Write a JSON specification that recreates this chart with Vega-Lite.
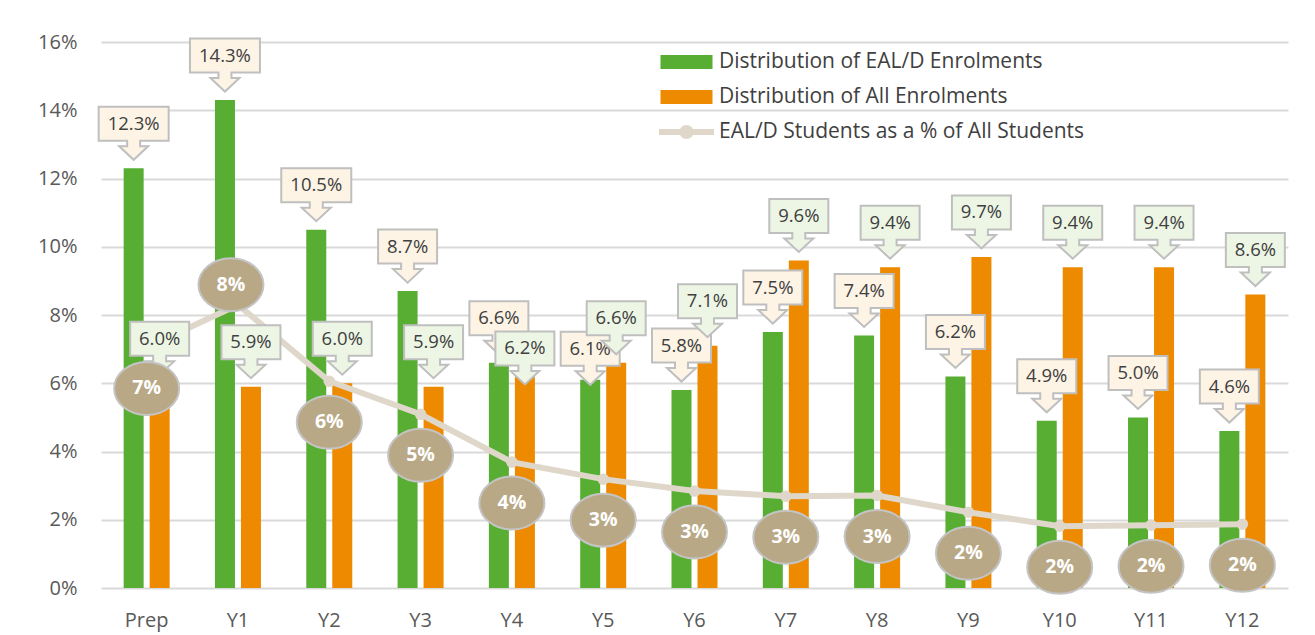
{
  "$schema": "https://vega.github.io/schema/vega-lite/v6.json",
  "width": 1187,
  "height": 546,
  "autosize": "none",
  "padding": {"left": 101, "top": 42, "right": 27, "bottom": 47},
  "background": "white",
  "config": {
    "view": {"stroke": null},
    "font": "Open Sans",
    "axis": {"ticks": false, "domain": false, "labelFont": "Open Sans", "labelFontSize": 20, "labelColor": "#595959", "title": null}
  },
  "data": {
    "values": [
      {"grade": "Prep", "eald": 0.123, "all": 0.060, "pct": 0.0705},
      {"grade": "Y1", "eald": 0.143, "all": 0.059, "pct": 0.083},
      {"grade": "Y2", "eald": 0.105, "all": 0.060, "pct": 0.0606},
      {"grade": "Y3", "eald": 0.087, "all": 0.059, "pct": 0.0509},
      {"grade": "Y4", "eald": 0.066, "all": 0.062, "pct": 0.0369},
      {"grade": "Y5", "eald": 0.061, "all": 0.066, "pct": 0.0319},
      {"grade": "Y6", "eald": 0.058, "all": 0.071, "pct": 0.0284},
      {"grade": "Y7", "eald": 0.075, "all": 0.096, "pct": 0.0269},
      {"grade": "Y8", "eald": 0.074, "all": 0.094, "pct": 0.0271},
      {"grade": "Y9", "eald": 0.062, "all": 0.097, "pct": 0.0222},
      {"grade": "Y10", "eald": 0.049, "all": 0.094, "pct": 0.0181},
      {"grade": "Y11", "eald": 0.050, "all": 0.094, "pct": 0.0184},
      {"grade": "Y12", "eald": 0.046, "all": 0.086, "pct": 0.0187}
    ]
  },
  "encoding": {
    "x": {
      "field": "grade",
      "type": "nominal",
      "title": null,
      "scale": {"domain": ["Prep", "Y1", "Y2", "Y3", "Y4", "Y5", "Y6", "Y7", "Y8", "Y9", "Y10", "Y11", "Y12"], "paddingInner": 0, "paddingOuter": 0},
      "axis": {"labelAngle": 0, "labelPadding": 22, "grid": false}
    }
  },
  "layer": [
    {
      "mark": {"type": "bar", "width": 20, "xOffset": -13},
      "encoding": {
        "y": {
          "field": "eald", "type": "quantitative", "title": null,
          "scale": {"domain": [0, 0.16], "nice": false},
          "axis": {"values": [0, 0.02, 0.04, 0.06, 0.08, 0.1, 0.12, 0.14, 0.16], "format": ".0%", "labelPadding": 24, "grid": true, "gridColor": "#D9D9D9", "gridWidth": 2}
        },
        "fill": {
          "datum": "Distribution of EAL/D Enrolments",
          "type": "nominal",
          "scale": {
            "domain": ["Distribution of EAL/D Enrolments", "Distribution of All Enrolments", "EAL/D Students as a % of All Students"],
            "range": ["#57AE33", "#EE8A00", "#DED7CA"]
          },
          "legend": {
            "orient": "none", "legendX": 575, "legendY": 9.5, "title": null,
            "labelFont": "Open Sans", "labelFontSize": 21, "labelColor": "#404040", "labelLimit": 600,
            "symbolSize": 400, "symbolStrokeWidth": 0, "labelOffset": 22, "rowPadding": 13, "padding": 0,
            "encode": {
              "symbols": {
                "update": {
                  "shape": {"signal": "datum.value === 'EAL/D Students as a % of All Students' ? 'M -2.75 -0.3 L 2.75 -0.3 L 2.75 0.3 L -2.75 0.3 Z M 0.7 0 A 0.7 0.7 0 1 1 -0.7 0 A 0.7 0.7 0 1 1 0.7 0 Z' : 'M -2.6 -0.7 L 2.6 -0.7 L 2.6 0.7 L -2.6 0.7 Z'"},
                  "opacity": {"value": 1}
                }
              }
            }
          }
        }
      }
    },
    {
      "mark": {"type": "bar", "width": 20, "xOffset": 13},
      "encoding": {
        "y": {"field": "all", "type": "quantitative", "title": null},
        "fill": {"datum": "Distribution of All Enrolments", "type": "nominal"}
      }
    },
    {
      "mark": {"type": "line", "stroke": "#DED7CA", "strokeWidth": 6},
      "encoding": {"y": {"field": "pct", "type": "quantitative", "title": null}}
    },
    {
      "mark": {"type": "point", "shape": "circle", "filled": true, "size": 133, "opacity": 1, "strokeWidth": 0},
      "encoding": {
        "y": {"field": "pct", "type": "quantitative", "title": null},
        "fill": {"datum": "EAL/D Students as a % of All Students", "type": "nominal"}
      }
    },
    {
      "transform": [{"filter": "datum.grade !== 'Y5'"}],
      "mark": {"type": "point", "filled": true, "size": 4, "opacity": 1, "fill": "#FDF4E6", "stroke": "#BFBFBF", "strokeWidth": 2, "xOffset": -13, "yOffset": -8.5},
      "encoding": {
        "y": {"field": "eald", "type": "quantitative", "title": null},
        "shape": {
          "condition": {"test": "datum.eald >= 0.1", "value": "M -35 -53 H 35 V -19 H 6.5 V -13.5 H 14.5 L 0 0 L -14.5 -13.5 H -6.5 V -19 H -35 Z"},
          "value": "M -29.5 -53 H 29.5 V -19 H 6.5 V -13.5 H 14.5 L 0 0 L -14.5 -13.5 H -6.5 V -19 H -29.5 Z"
        }
      }
    },
    {
      "transform": [{"filter": "datum.grade !== 'Y5'"}],
      "mark": {"type": "text", "font": "Open Sans", "fontSize": 18.5, "fill": "#404040", "baseline": "middle", "align": "center", "xOffset": -13, "yOffset": -44.5},
      "encoding": {
        "y": {"field": "eald", "type": "quantitative", "title": null},
        "text": {"field": "eald", "type": "quantitative", "format": ".1%"}
      }
    },
    {
      "transform": [{"filter": "datum.grade === 'Y5'"}],
      "mark": {"type": "point", "filled": true, "size": 4, "opacity": 1, "fill": "#FDF4E6", "stroke": "#BFBFBF", "strokeWidth": 2, "xOffset": -13, "yOffset": 5, "shape": "M -29.5 -53 H 29.5 V -19 H 6.5 V -13.5 H 14.5 L 0 0 L -14.5 -13.5 H -6.5 V -19 H -29.5 Z"},
      "encoding": {"y": {"field": "eald", "type": "quantitative", "title": null}}
    },
    {
      "transform": [{"filter": "datum.grade === 'Y5'"}],
      "mark": {"type": "text", "font": "Open Sans", "fontSize": 18.5, "fill": "#404040", "baseline": "middle", "align": "center", "xOffset": -13, "yOffset": -31},
      "encoding": {
        "y": {"field": "eald", "type": "quantitative", "title": null},
        "text": {"field": "eald", "type": "quantitative", "format": ".1%"}
      }
    },
    {
      "transform": [{"filter": "datum.grade !== 'Y4'"}],
      "mark": {"type": "point", "filled": true, "size": 4, "opacity": 1, "fill": "#EDF6E5", "stroke": "#BFBFBF", "strokeWidth": 2, "xOffset": 13, "yOffset": -8.5, "shape": "M -29.5 -53 H 29.5 V -19 H 6.5 V -13.5 H 14.5 L 0 0 L -14.5 -13.5 H -6.5 V -19 H -29.5 Z"},
      "encoding": {"y": {"field": "all", "type": "quantitative", "title": null}}
    },
    {
      "transform": [{"filter": "datum.grade !== 'Y4'"}],
      "mark": {"type": "text", "font": "Open Sans", "fontSize": 18.5, "fill": "#404040", "baseline": "middle", "align": "center", "xOffset": 13, "yOffset": -44.5},
      "encoding": {
        "y": {"field": "all", "type": "quantitative", "title": null},
        "text": {"field": "all", "type": "quantitative", "format": ".1%"}
      }
    },
    {
      "transform": [{"filter": "datum.grade === 'Y4'"}],
      "mark": {"type": "point", "filled": true, "size": 4, "opacity": 1, "fill": "#EDF6E5", "stroke": "#BFBFBF", "strokeWidth": 2, "xOffset": 13, "yOffset": 8, "shape": "M -29.5 -53 H 29.5 V -19 H 6.5 V -13.5 H 14.5 L 0 0 L -14.5 -13.5 H -6.5 V -19 H -29.5 Z"},
      "encoding": {"y": {"field": "all", "type": "quantitative", "title": null}}
    },
    {
      "transform": [{"filter": "datum.grade === 'Y4'"}],
      "mark": {"type": "text", "font": "Open Sans", "fontSize": 18.5, "fill": "#404040", "baseline": "middle", "align": "center", "xOffset": 13, "yOffset": -28},
      "encoding": {
        "y": {"field": "all", "type": "quantitative", "title": null},
        "text": {"field": "all", "type": "quantitative", "format": ".1%"}
      }
    },
    {
      "transform": [{"filter": "datum.grade !== 'Y1'"}],
      "mark": {"type": "point", "filled": true, "size": 4, "opacity": 1, "fill": "#B9A886", "stroke": "#C4C4C4", "strokeWidth": 2, "yOffset": 41, "shape": "M -32.5 0 A 32.5 26.5 0 1 0 32.5 0 A 32.5 26.5 0 1 0 -32.5 0 Z"},
      "encoding": {"y": {"field": "pct", "type": "quantitative", "title": null}}
    },
    {
      "transform": [{"filter": "datum.grade !== 'Y1'"}],
      "mark": {"type": "text", "font": "Open Sans", "fontSize": 19.5, "fontWeight": "bold", "fill": "white", "baseline": "middle", "align": "center", "yOffset": 41},
      "encoding": {
        "y": {"field": "pct", "type": "quantitative", "title": null},
        "text": {"field": "pct", "type": "quantitative", "format": ".0%"}
      }
    },
    {
      "transform": [{"filter": "datum.grade === 'Y1'"}],
      "mark": {"type": "point", "filled": true, "size": 4, "opacity": 1, "fill": "#B9A886", "stroke": "#C4C4C4", "strokeWidth": 2, "xOffset": -7, "yOffset": -20, "shape": "M -32.5 0 A 32.5 26.5 0 1 0 32.5 0 A 32.5 26.5 0 1 0 -32.5 0 Z"},
      "encoding": {"y": {"field": "pct", "type": "quantitative", "title": null}}
    },
    {
      "transform": [{"filter": "datum.grade === 'Y1'"}],
      "mark": {"type": "text", "font": "Open Sans", "fontSize": 19.5, "fontWeight": "bold", "fill": "white", "baseline": "middle", "align": "center", "xOffset": -7, "yOffset": -20},
      "encoding": {
        "y": {"field": "pct", "type": "quantitative", "title": null},
        "text": {"field": "pct", "type": "quantitative", "format": ".0%"}
      }
    }
  ]
}
